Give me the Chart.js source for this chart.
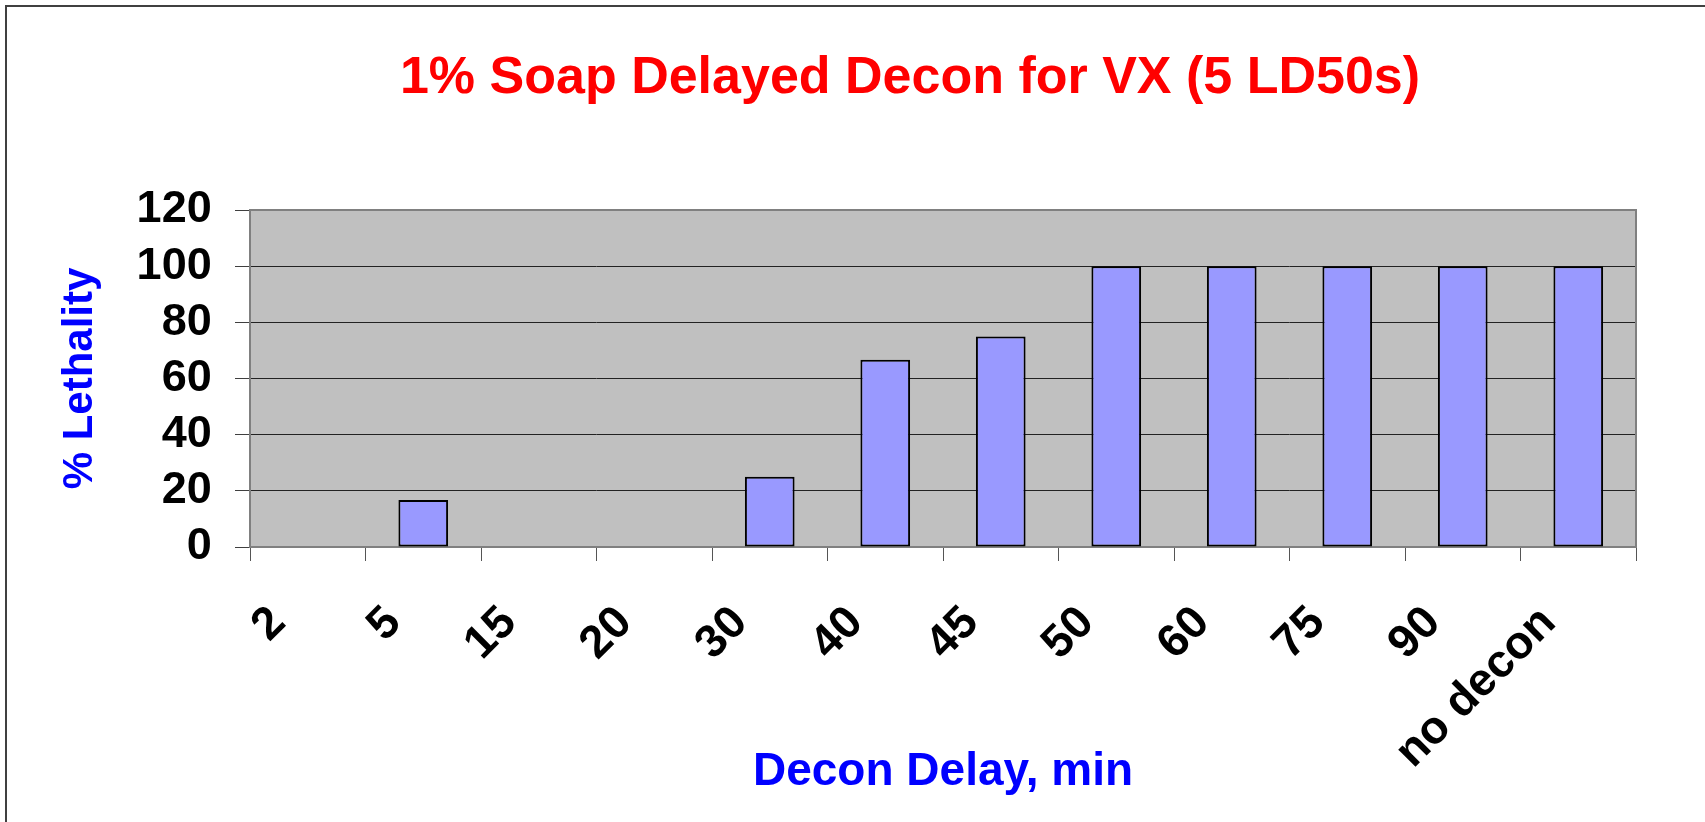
<!DOCTYPE html>
<html lang="en">
<head>
  <meta charset="UTF-8" />
  <title>1% Soap Delayed Decon for VX (5 LD50s)</title>
  <script src="https://cdn.jsdelivr.net/npm/chart.js"></script>
  <style>
    html, body { margin: 0; padding: 0; background: #fff; overflow: hidden; }
    #frame {
      position: absolute; left: 5px; top: 5px;
      border-left: 2px solid #404040; border-top: 2px solid #404040;
    }
    canvas { display: block; }
  </style>
</head>
<body>
  <div id="frame">
    <canvas id="chart" width="1806" height="815" style="width:1806px;height:815px"></canvas>
  </div>

  <script>
    // data
    const delays = ['2', '5', '15', '20', '30', '40', '45', '50', '60', '75', '90', 'no decon'];
    const lethality = [0, 16.7, 0, 0, 25, 66.7, 75, 100, 100, 100, 100, 100];
    const yMin = 0, yMax = 120, yStep = 20;

    const chartTitle = '1% Soap Delayed Decon for VX (5 LD50s)';
    const xTitle = 'Decon Delay, min';
    const yTitle = '% Lethality';

    const fontFamily = "'Liberation Sans', Arial, sans-serif";

    // gray plot background + gray frame like the old Excel chart
    const plotFrame = {
      id: 'plotFrame',
      beforeDraw(chart) {
        const { ctx, chartArea: a } = chart;
        ctx.save();
        ctx.fillStyle = '#C0C0C0';
        ctx.fillRect(a.left, a.top, a.right - a.left, a.bottom - a.top);
        ctx.restore();
      },
      beforeDatasetsDraw(chart) {
        const { ctx, chartArea: a } = chart;
        ctx.save();
        ctx.strokeStyle = '#808080';
        ctx.lineWidth = 2;
        ctx.strokeRect(a.left, a.top, a.right - a.left, a.bottom - a.top);
        ctx.restore();
      }
    };

    new Chart(document.getElementById('chart'), {
      type: 'bar',
      data: {
        labels: delays,
        datasets: [{
          label: '% Lethality',
          data: lethality,
          backgroundColor: '#9999FF',
          borderColor: '#000000',
          borderWidth: 2,
          borderSkipped: false,
          barPercentage: 0.43,
          categoryPercentage: 1
        }]
      },
      options: {
        responsive: false,
        animation: false,
        devicePixelRatio: 1,
        layout: { padding: 0 },
        plugins: {
          legend: { display: false },
          tooltip: { enabled: false },
          title: {
            display: true,
            text: chartTitle,
            color: '#FF0000',
            font: { family: fontFamily, size: 52, weight: 'bold', lineHeight: 1.2 },
            padding: { top: 40, bottom: 100.6 }
          }
        },
        scales: {
          x: {
            grid: {
              display: true,
              drawOnChartArea: false,
              drawTicks: true,
              tickLength: 14,
              tickColor: '#555555',
              offset: true
            },
            border: { display: false },
            ticks: {
              color: '#000000',
              font: { family: fontFamily, size: 46, weight: 'bold', lineHeight: 1.2 },
              minRotation: 45,
              maxRotation: 45,
              autoSkip: false,
              padding: 35,
              labelOffset: -29.5
            },
            title: {
              display: true,
              text: xTitle,
              color: '#0000FF',
              font: { family: fontFamily, size: 46, weight: 'bold', lineHeight: 1.2 },
              padding: { top: 0, bottom: 22 }
            },
            afterFit(scale) { scale.height = 275; }
          },
          y: {
            min: yMin,
            max: yMax,
            ticks: {
              stepSize: yStep,
              autoSkip: false,
              color: '#000000',
              font: { family: fontFamily, size: 45, weight: 'bold', lineHeight: 1.2 },
              padding: 23.3
            },
            grid: {
              color: '#222222',
              lineWidth: 1,
              tickLength: 15,
              tickColor: '#404040'
            },
            border: { display: false },
            title: {
              display: true,
              text: yTitle,
              color: '#0000FF',
              font: { family: fontFamily, size: 42, weight: 'bold', lineHeight: 1.2 },
              padding: { top: 48.5, bottom: 0 }
            },
            afterFit(scale) { scale.width = 243; }
          },
          // empty right-hand box so the title centres like the original
          yRight: {
            position: 'right',
            display: true,
            grid: { display: false },
            border: { display: false },
            ticks: { display: false },
            afterFit(scale) { scale.width = 177; }
          }
        }
      },
      plugins: [plotFrame]
    });
  </script>
</body>
</html>
